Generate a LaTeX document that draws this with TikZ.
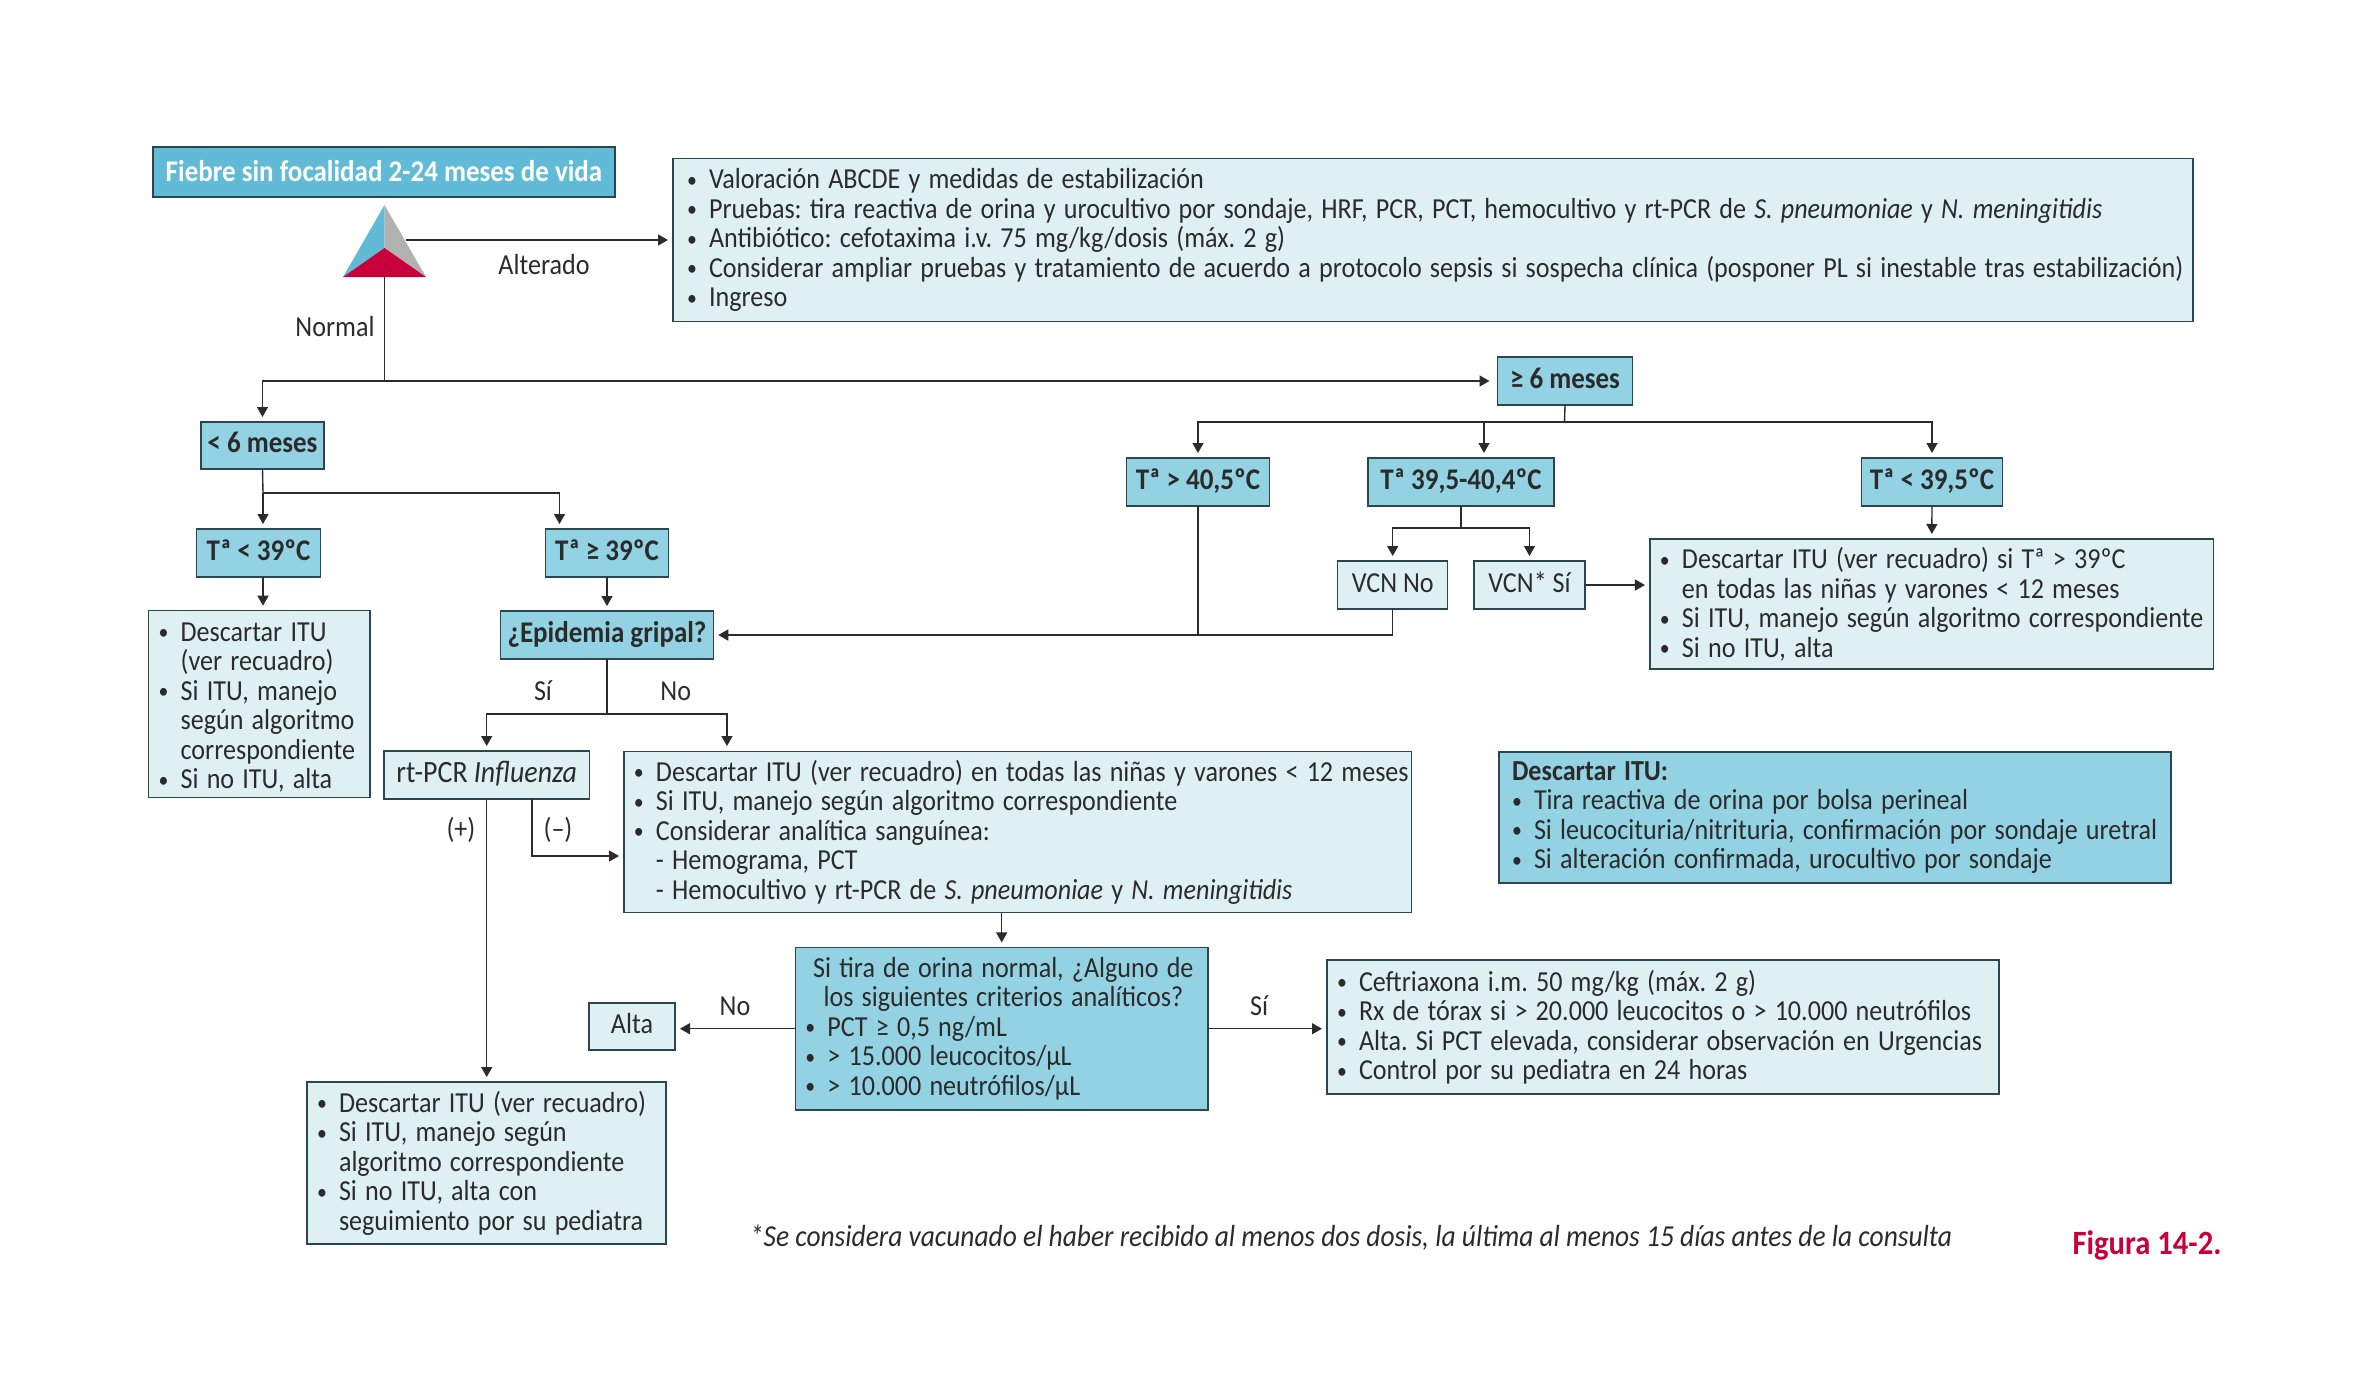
\documentclass[tikz,border=0pt]{standalone}
\usepackage{fontspec}
\setmainfont{Carlito}[FakeStretch=0.9]
\usetikzlibrary{arrows.meta}
\definecolor{lightb}{HTML}{DFF0F3}
\definecolor{midb}{HTML}{93D2E2}
\definecolor{topb}{HTML}{62BBD6}
\definecolor{edgeb}{HTML}{2A4650}
\definecolor{redt}{HTML}{C8003C}
\definecolor{grayt}{HTML}{B1B1B1}
\definecolor{ink}{HTML}{2B2B2B}
\frenchspacing
\newcommand\wsp{\spaceskip=8.2pt\relax\xspaceskip=8.2pt\relax}
\newcommand\bul[1]{\mbox{\wsp\makebox[22pt][l]{\raisebox{1.5pt}{\fontsize{22}{22}\selectfont •}}#1}}
\newcommand\cnt[1]{\mbox{\wsp\hspace{22pt}#1}}
\newcommand\ctr[1]{\makebox[396pt][c]{\wsp #1}}
\tikzset{
 txt/.style={font=\fontsize{29}{29.5}\selectfont,text=ink,inner sep=0pt},
 basebox/.style={txt,draw=edgeb,line width=1.4pt,outer sep=0pt,inner xsep=10pt,inner ysep=0pt},
 lbox/.style={basebox,fill=lightb,align=left},
 mbox/.style={basebox,fill=midb,font=\fontsize{30}{29.5}\selectfont\bfseries,align=center,inner xsep=0pt,text height=22pt,text depth=8pt},
 sbox/.style={basebox,fill=lightb,align=center,inner xsep=0pt,text height=22pt,text depth=8pt},
 wire/.style={draw=ink,line width=1.4pt},
 arr/.style={wire,-{Triangle[length=10pt,width=11pt]},shorten >=5pt},
}
\begin{document}
\begin{tikzpicture}[x=1pt,y=-1pt]
\useasboundingbox (0,0) rectangle (2362,1393);
% triangle
\fill[topb] (384.5,205) -- (384.5,248) -- (343,277) -- cycle;
\fill[grayt] (384.5,205) -- (384.5,248) -- (426,277) -- cycle;
\fill[redt] (384.5,248) -- (343,277) -- (426,277) -- cycle;
\coordinate (triR) at (405.5,240);
\coordinate (triB) at (384.5,277);
% boxes
\node[basebox,fill=topb,text=white,font=\fontsize{30}{29.5}\selectfont\bfseries,minimum width=462pt,minimum height=50pt,inner xsep=0pt,text height=24pt,text depth=5pt] (title) at (384,172) {Fiebre sin focalidad 2-24 meses de vida};
\node[lbox,inner xsep=14pt,text width=1492pt,minimum height=163pt] (top) at (1433,240) {%
\bul{Valoración ABCDE y medidas de estabilización}\\
\bul{Pruebas: tira reactiva de orina y urocultivo por sondaje, HRF, PCR, PCT, hemocultivo y rt-PCR de \textit{S. pneumoniae} y \textit{N. meningitidis}}\\
\bul{Antibiótico: cefotaxima i.v. 75 mg/kg/dosis (máx. 2 g)}\\
\bul{Considerar ampliar pruebas y tratamiento de acuerdo a protocolo sepsis si sospecha clínica (posponer PL si inestable tras estabilización)}\\
\bul{Ingreso}};
\node[mbox,minimum width=123pt,minimum height=47pt] (m6) at (262.5,445.5) {< 6 meses};
\node[mbox,minimum width=135pt,minimum height=48pt] (ge6) at (1565,381) {≥ 6 meses};
\node[mbox,minimum width=124pt,minimum height=48pt] (t39) at (258.5,553) {Tª < 39ºC};
\node[mbox,minimum width=123.5pt,minimum height=48pt] (t39b) at (607,553) {Tª ≥ 39ºC};
\node[mbox,minimum width=212.5pt,minimum height=48pt] (epi) at (607,635) {¿Epidemia gripal?};
\node[lbox,text width=201.4pt,minimum height=187pt] (b1) at (259.3,704.2) {%
\bul{\rule{0pt}{25pt}Descartar ITU}\\
\cnt{(ver recuadro)}\\
\bul{Si ITU, manejo}\\
\cnt{según algoritmo}\\
\cnt{correspondiente}\\
\bul{Si no ITU, alta}};
\node[mbox,minimum width=143pt,minimum height=48pt] (t405) at (1198,482) {Tª > 40,5ºC};
\node[mbox,minimum width=186pt,minimum height=48pt] (t395) at (1461,482) {Tª 39,5-40,4ºC};
\node[mbox,minimum width=141pt,minimum height=48pt] (t395b) at (1932,482) {Tª < 39,5ºC};
\node[sbox,minimum width=110pt,minimum height=48pt] (vno) at (1392.7,585) {VCN No};
\node[sbox,minimum width=111pt,minimum height=48pt] (vsi) at (1529.5,585) {VCN* Sí};
\node[lbox,text width=543.7pt,minimum height=130pt] (b4) at (1931.8,604) {%
\bul{Descartar ITU (ver recuadro) si Tª > 39ºC}\\
\cnt{en todas las niñas y varones < 12 meses}\\
\bul{Si ITU, manejo según algoritmo correspondiente}\\
\bul{Si no ITU, alta}};
\node[sbox,font=\fontsize{31}{29.5}\selectfont,minimum width=205.5pt,minimum height=48pt] (rt) at (486.7,775) {rt-PCR \textit{Influenza}};
\node[lbox,text width=767.5pt,minimum height=161pt] (b2) at (1017.7,832) {%
\bul{Descartar ITU (ver recuadro) en todas las niñas y varones < 12 meses}\\
\bul{Si ITU, manejo según algoritmo correspondiente}\\
\bul{Considerar analítica sanguínea:}\\
\cnt{- Hemograma, PCT}\\
\cnt{- Hemocultivo y rt-PCR de \textit{S. pneumoniae} y \textit{N. meningitidis}}};
\node[lbox,fill=midb,inner xsep=13pt,text width=646pt,minimum height=131pt] (itu) at (1835,817.5) {%
\mbox{\wsp\textbf{Descartar ITU:}}\\
\bul{Tira reactiva de orina por bolsa perineal}\\
\bul{Si leucocituria/nitrituria, confirmación por sondaje uretral}\\
\bul{Si alteración confirmada, urocultivo por sondaje}};
\node[lbox,fill=midb,text width=392.6pt,minimum height=162.5pt] (crit) at (1001.7,1028.7) {%
\ctr{Si tira de orina normal, ¿Alguno de}\\
\ctr{los siguientes criterios analíticos?}\\
\bul{PCT ≥ 0,5 ng/mL}\\
\bul{> 15.000 leucocitos/μL}\\
\bul{> 10.000 neutrófilos/μL}};
\node[sbox,minimum width=86pt,minimum height=47pt] (alta) at (632,1026.5) {Alta};
\node[lbox,text width=652pt,minimum height=134pt] (cef) at (1663,1027) {%
\bul{Ceftriaxona i.m. 50 mg/kg (máx. 2 g)}\\
\bul{Rx de tórax si > 20.000 leucocitos o > 10.000 neutrófilos}\\
\bul{Alta. Si PCT elevada, considerar observación en Urgencias}\\
\bul{Control por su pediatra en 24 horas}};
\node[lbox,text width=339pt,minimum height=162pt] (b3) at (486.5,1163) {%
\bul{Descartar ITU (ver recuadro)}\\
\bul{Si ITU, manejo según}\\
\cnt{algoritmo correspondiente}\\
\bul{Si no ITU, alta con}\\
\cnt{seguimiento por su pediatra}};
% labels
\node[txt] (lalt) at (544,265) {Alterado};
\node[txt] (lnor) at (335,327) {Normal};
\node[txt] (lsi1) at (543,691) {Sí};
\node[txt] (lno1) at (675.7,691) {No};
\node[txt] (lpos) at (461,830) {(+)};
\node[txt] (lneg) at (558,830) {(–)};
\node[txt] (lno2) at (735,1006) {No};
\node[txt] (lsi2) at (1259,1006) {Sí};
\node[txt,font=\fontsize{30.5}{29.5}\selectfont\itshape] (foot) at (1351,1237.5) {*Se considera vacunado el haber recibido al menos dos dosis, la última al menos 15 días antes de la consulta};
\node[txt,text=redt,font=\fontsize{34}{34}\selectfont\bfseries] (fig) at (2147,1245) {Figura 14-2.};
% junctions
\coordinate (j1) at (384.5,381);
\coordinate (j2) at (1564.5,422);
\coordinate (j3) at (1461,528);
\coordinate (j4) at (1198,635);
\coordinate (j5) at (263,493);
\coordinate (j6) at (607,714);
\coordinate (t395in) at (1484,458);
\coordinate (t39bin) at (559.5,529);
\coordinate (b2in) at (727,751);
\coordinate (rtm) at (532,799);
\coordinate (b2m) at (624,856);
% connectors
\draw[arr] (triR) -- (top.west |- triR);
\draw[wire] (triB) -- (j1);
\draw[arr] (j1) -| (m6.north);
\draw[arr,shorten >=8pt] (j1) -- (ge6.west);
\draw[wire] (ge6.south) -- (j2);
\draw[arr] (j2) -| (t405.north);
\draw[arr] (j2) -| (t395in);
\draw[arr] (j2) -| (t395b.north);
\draw[arr] (t395b.south) -- (b4.north);
\draw[wire] (t395.south) -- (j3);
\draw[arr] (j3) -| (vno.north);
\draw[arr] (j3) -| (vsi.north);
\draw[arr] (vsi.east) -- (vsi.east -| b4.west);
\draw[arr] (vno.south) |- (epi.east);
\draw[wire] (t405.south) -- (j4);
\draw[wire] (m6.south) -- (j5);
\draw[arr] (j5) -- (j5 |- t39.north);
\draw[arr] (j5) -| (t39bin);
\draw[arr] (j5 |- t39.south) -- (j5 |- b1.north);
\draw[arr] (t39b.south) -- (epi.north);
\draw[wire] (epi.south) -- (j6);
\draw[arr] (j6) -| (rt.north);
\draw[arr] (j6) -| (b2in);
\draw[arr] (rt.south) -- (rt.south |- b3.north);
\draw[arr] (rtm) |- (b2m);
\draw[arr] (crit.north |- b2.south) -- (crit.north);
\draw[arr] (crit.west) -- (crit.west -| alta.east);
\draw[arr] (crit.east) -- (crit.east -| cef.west);
\end{tikzpicture}
\end{document}
